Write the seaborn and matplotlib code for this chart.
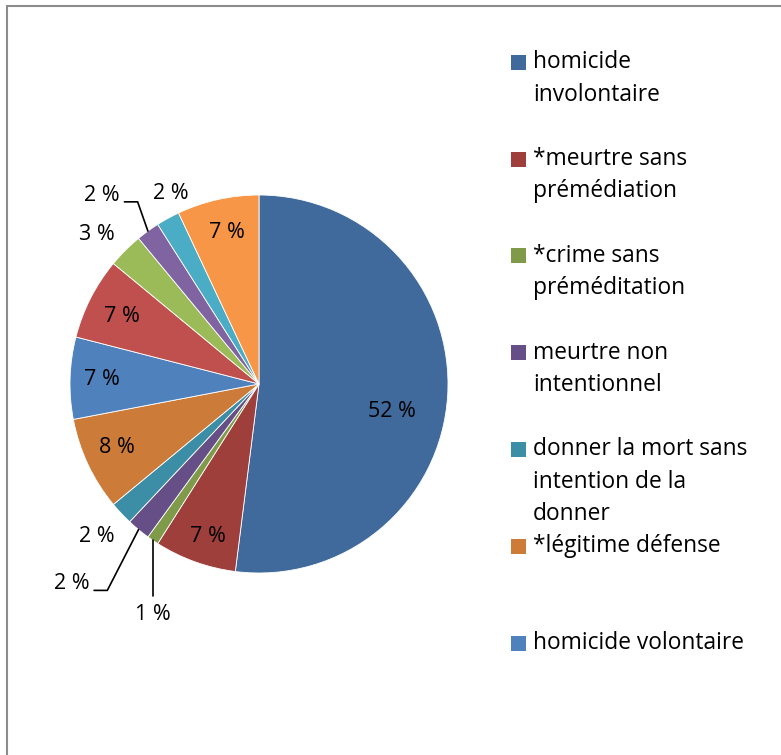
import numpy as np
import seaborn as sns
import matplotlib
matplotlib.use("Agg")
import matplotlib.pyplot as plt
from matplotlib.patches import Rectangle
from matplotlib.lines import Line2D

# === data ===
values = [52, 7, 1, 2, 2, 8, 7, 7, 3, 2, 2, 7]
pct_labels = [f"{v} %" for v in values]
legend_labels = [
    "homicide\ninvolontaire",
    "*meurtre sans\nprémédiation",
    "*crime sans\npréméditation",
    "meurtre non\nintentionnel",
    "donner la mort sans\nintention de la\ndonner",
    "*légitime défense",
    "homicide volontaire",
]
colors = ["#40699c", "#9e3f3c", "#7f9a48", "#664f86", "#3b8ea5", "#cc7b38",
          "#4f81bd", "#c0504d", "#9bbb59", "#8064a2", "#4bacc6", "#f79646"]

# label layout: radial distance (in radii), clockwise angle shift (deg), leader type
label_dist = [0.72, 0.85, 1.34, 1.45, 1.18, 0.82, 0.83, 0.81, 1.17, 1.30, 1.11, 0.82]
label_shift = [8.2, -1.4, -9.5, 3.6, 0, 1.2, 0, -0.9, -2.3, -3.8, 4.0, 0.5]
leader = [None, None, "top", "side", None, None, None, None, None, "side", None, None]

sns.set_theme(style="white")
plt.rcParams["font.family"] = ["Open Sans", "DejaVu Sans"]
FS_PIE = 15.5
FS_LEG = 16.4

R = 189.0   # pixels per radius
CX, CY = 259.0, 384.0
W, H = 781, 755


def px2data(px, py):
    return (px - CX) / R, (CY - py) / R


fig = plt.figure(figsize=(W / 100, H / 100), dpi=100)
ax = fig.add_axes([0, 0, 1, 1])

wedges, _ = ax.pie(values, colors=colors, startangle=90, counterclock=False,
                   wedgeprops=dict(edgecolor="white", linewidth=0.6))

x0, y0 = px2data(0, H)
x1, y1 = px2data(W, 0)
ax.set_xlim(x0, x1)
ax.set_ylim(y0, y1)
ax.set_aspect("auto")
ax.axis("off")

# === percentage labels ===
for w, lab, d, s, ld in zip(wedges, pct_labels, label_dist, label_shift, leader):
    mid = np.deg2rad((w.theta1 + w.theta2) / 2)
    ang = mid - np.deg2rad(s)
    tx, ty = d * np.cos(ang), d * np.sin(ang)
    ax.text(tx, ty, lab, ha="center", va="center", fontsize=FS_PIE, color="black")
    ex, ey = np.cos(mid), np.sin(mid)
    if ld == "top":
        ax.add_line(Line2D([ex, ex], [ey, ty + 0.095], color="black", lw=1.2))
    elif ld == "side":
        hx = tx + 0.12
        ly = ty - 0.035
        ax.add_line(Line2D([ex, hx + 0.07, hx], [ey, ly, ly], color="black", lw=1.2))

# === legend (drawn by hand so the marker sits on the first text line) ===
for i, lab in enumerate(legend_labels):
    yc = 62.3 + i * 96.8
    rx, ry = px2data(511, yc + 7.5)
    ax.add_patch(Rectangle((rx, ry), 15 / R, 15 / R, color=colors[i], lw=0))
    for k, line in enumerate(lab.split("\n")):
        tx, ty = px2data(533, yc + k * 32.3)
        ax.text(tx, ty, line, ha="left", va="center", fontsize=FS_LEG, color="black")

# === chart frame (cut at right and bottom) ===
fx = 7 / W
fy = 1 - 6 / H
fig.add_artist(Line2D([fx, fx], [0, fy], color="#8c8c8c", lw=1.5))
fig.add_artist(Line2D([fx, 1], [fy, fy], color="#8c8c8c", lw=1.5))

fig.savefig("out.png", dpi=100)
